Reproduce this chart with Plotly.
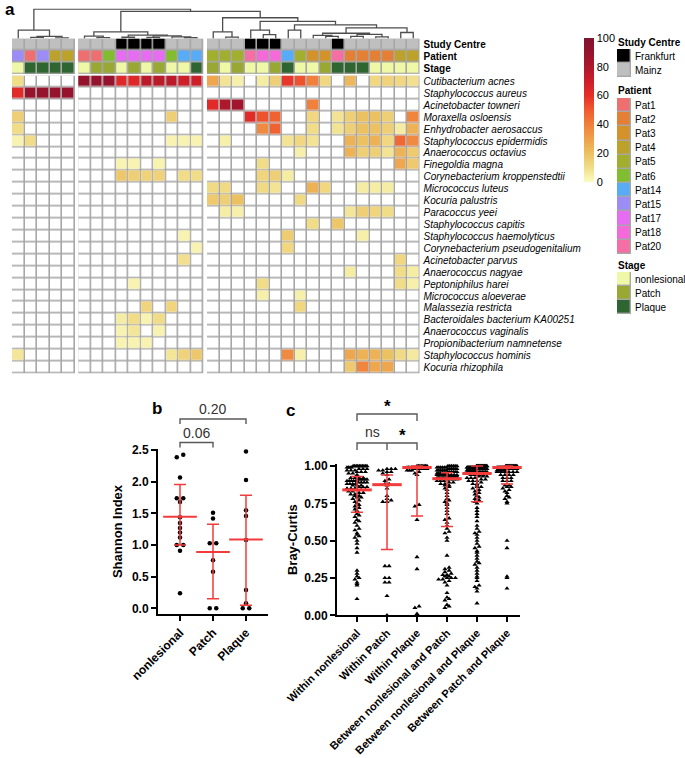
import numpy as np
import plotly.graph_objects as go

W, H = 685, 758
FONT = "Liberation Sans, Arial, Helvetica, sans-serif"


def fx(p):
    return p / W


def fy(p):
    return 1 - p / H


# ---------------- panel a data ----------------
species = ["Cutibacterium acnes", "Staphylococcus aureus", "Acinetobacter towneri",
           "Moraxella osloensis", "Enhydrobacter aerosaccus", "Staphylococcus epidermidis",
           "Anaerococcus octavius", "Finegoldia magna", "Corynebacterium kroppenstedtii",
           "Micrococcus luteus", "Kocuria palustris", "Paracoccus yeei", "Staphylococcus capitis",
           "Staphylococcus haemolyticus", "Corynebacterium pseudogenitalium", "Acinetobacter parvus",
           "Anaerococcus nagyae", "Peptoniphilus harei", "Micrococcus aloeverae", "Malassezia restricta",
           "Bacteroidales bacterium KA00251", "Anaerococcus vaginalis", "Propionibacterium namnetense",
           "Staphylococcus hominis", "Kocuria rhizophila"]

cluster_sizes = [5, 10, 17]

study_centre = ["Mainz", "Mainz", "Mainz", "Mainz", "Mainz",
                "Mainz", "Mainz", "Mainz", "Frankfurt", "Frankfurt", "Frankfurt", "Frankfurt", "Mainz", "Mainz", "Mainz",
                "Mainz", "Mainz", "Mainz", "Frankfurt", "Frankfurt", "Frankfurt", "Mainz", "Mainz", "Mainz", "Mainz",
                "Frankfurt", "Mainz", "Mainz", "Mainz", "Mainz", "Mainz", "Mainz"]
patient = ["Pat15", "Pat1", "Pat15", "Pat4", "Pat4",
           "Pat1", "Pat1", "Pat6", "Pat17", "Pat17", "Pat17", "Pat17", "Pat6", "Pat14", "Pat14",
           "Pat5", "Pat5", "Pat5", "Pat20", "Pat18", "Pat18", "Pat14", "Pat5", "Pat3", "Pat3", "Pat20",
           "Pat2", "Pat2", "Pat2", "Pat2", "Pat4", "Pat4"]
stage = ["nonlesional", "Plaque", "Plaque", "Plaque", "Plaque",
         "nonlesional", "Patch", "Patch", "nonlesional", "Patch", "nonlesional", "Patch", "nonlesional",
         "nonlesional", "Plaque",
         "Patch", "nonlesional", "Patch", "nonlesional", "nonlesional", "Patch", "Plaque", "nonlesional",
         "nonlesional", "Patch", "Plaque", "Plaque", "Plaque", "nonlesional", "nonlesional", "nonlesional",
         "nonlesional"]

# relative abundance (%) per species; {sample column (1-based): value}, blank cells omitted
abundance = [
    {1: 10, 6: 90, 7: 90, 8: 90, 9: 63, 10: 63, 11: 76, 12: 76, 13: 76, 14: 70, 15: 70, 16: 28, 17: 8, 18: 4,
     20: 5, 21: 15, 22: 58, 23: 52, 24: 40, 25: 12, 27: 23, 29: 12, 30: 14, 31: 12, 32: 9},
    {1: 62, 2: 90, 3: 90, 4: 90, 5: 90},
    {16: 62, 17: 80, 18: 85, 24: 40},
    {1: 15, 13: 15, 19: 62, 20: 52, 21: 48, 24: 12, 26: 8, 27: 15, 28: 20, 29: 20, 30: 15, 32: 38},
    {1: 10, 20: 37, 21: 48, 24: 10, 26: 8, 27: 15, 28: 20, 29: 20, 30: 15, 31: 5, 32: 25},
    {1: 3, 2: 10, 13: 3, 14: 3, 15: 3, 17: 4, 22: 8, 23: 12, 24: 8, 27: 25, 28: 20, 29: 25, 30: 12, 31: 46, 32: 37},
    {23: 4, 27: 25, 28: 15, 29: 15, 30: 8, 31: 25, 32: 17},
    {9: 3, 10: 3, 12: 3, 20: 10, 31: 28, 32: 17},
    {9: 18, 10: 15, 11: 14, 12: 14, 14: 10, 15: 10, 20: 13, 21: 15, 22: 5},
    {16: 11, 17: 11, 20: 11, 21: 8, 24: 25, 25: 12, 28: 5, 29: 5, 30: 5},
    {16: 17, 17: 15, 18: 20, 23: 11},
    {17: 5, 18: 4, 27: 7, 28: 15, 29: 13, 30: 10},
    {24: 10, 26: 18},
    {14: 3, 22: 16, 28: 4},
    {15: 3, 22: 12},
    {14: 9, 31: 12},
    {27: 5, 31: 10, 32: 5},
    {10: 3, 20: 10, 31: 10, 32: 4},
    {20: 4, 23: 4},
    {11: 13, 13: 13, 23: 12},
    {9: 5, 10: 10, 11: 3, 12: 10},
    {9: 3, 10: 7, 12: 3},
    {9: 3, 10: 3, 11: 3},
    {1: 7, 13: 7, 14: 14, 15: 18, 22: 37, 23: 4, 27: 28, 28: 25, 29: 25, 30: 20, 31: 11, 32: 6},
    {27: 17, 28: 38, 29: 28, 30: 28},
]

# dendrogram: [merge height, left, right]; leaves are sample indices (0-based)
tree = [28, [8, 0, [2, [1, 1, 2], [0.6, 3, 4]]],
        [25.7,
         [6.3, [2.3, 5, [0.8, 6, 7]], [3.3, [1.2, 8, 9], [2.4, [1.0, 10, 11], [1.6, 12, [0.7, 13, 14]]]]],
         [19.7, [6.3, 15, [1.3, 16, 17]],
          [16.3, [8, 18, [3.7, 19, 20]],
           [13, [8, 21, 22],
            [10, [5, [3, 23, [2, 24, 25]], [4, [2, 26, 27], [1.5, 28, 29]]], [5.7, 30, 31]]]]]]]

study_levels = ["Frankfurt", "Mainz"]
patient_levels = ["Pat1", "Pat2", "Pat3", "Pat4", "Pat5", "Pat6", "Pat14", "Pat15", "Pat17", "Pat18", "Pat20"]
stage_levels = ["nonlesional", "Patch", "Plaque"]
study_colors = ["#000000", "#bfbfbf"]
patient_colors = ["#ef6f70", "#e47f36", "#d3932a", "#bca12b", "#a2ae2e", "#82bd30", "#58abf6", "#9b8cf6",
                  "#e66cf2", "#f36ad8", "#f56fa4"]
stage_colors = ["#eef8a6", "#98a833", "#2f6531"]

abund_scale = [[0.0, "#fbfcc2"], [0.1, "#f1dd88"], [0.2, "#ecc162"], [0.3, "#eea04a"], [0.4, "#f0803b"],
               [0.5, "#f05a30"], [0.6, "#e52e28"], [0.7, "#cc1f2a"], [0.8, "#ad182c"], [0.9, "#95132c"],
               [1.0, "#7f1430"]]

# ---------------- panel b data ----------------
b_groups = ["nonlesional", "Patch", "Plaque"]
b_nonlesional = [2.43, 2.39, 2.07, 1.74, 1.74, 1.68, 1.44, 1.35, 1.27, 1.20, 1.12, 1.0, 1.0, 0.91, 0.24]
b_patch = [1.51, 1.42, 1.03, 1.03, 0.76, 0.58, 0.0, 0.0]
b_plaque = [2.48, 2.03, 1.55, 1.46, 1.08, 0.29, 0.08, 0.0, 0.0]
b_center = [1.45, 0.89, 1.09]
b_low = [1.00, 0.15, 0.05]
b_high = [1.96, 1.33, 1.79]

# ---------------- panel c data (value, count) ----------------
c_groups = ["Within nonlesional", "Within Patch", "Within Plaque", "Between nonlesional and Patch",
            "Between nonlesional and Plaque", "Between Patch and Plaque"]
c_within_nonles = [(1.0, 10), (0.99, 4), (0.98, 3), (0.97, 3), (0.96, 3), (0.95, 2), (0.94, 1), (0.92, 4),
                   (0.91, 5), (0.90, 5), (0.89, 4), (0.88, 4), (0.87, 3), (0.86, 3), (0.85, 3), (0.84, 3),
                   (0.83, 2), (0.82, 2), (0.81, 2), (0.80, 2), (0.79, 2), (0.78, 1), (0.77, 1), (0.76, 1),
                   (0.75, 1), (0.74, 1), (0.73, 1), (0.72, 1), (0.71, 1), (0.70, 1), (0.68, 1), (0.67, 1),
                   (0.66, 1), (0.64, 1), (0.63, 1), (0.62, 1), (0.60, 1), (0.58, 1), (0.57, 1), (0.55, 1),
                   (0.54, 1), (0.53, 1), (0.52, 1), (0.50, 1), (0.48, 1), (0.45, 1), (0.42, 1), (0.30, 1),
                   (0.28, 1), (0.26, 1), (0.25, 1), (0.24, 1), (0.22, 1), (0.21, 1), (0.20, 1), (0.11, 1)]
c_within_patch = [(0.98, 3), (0.97, 2), (0.96, 2), (0.95, 1), (0.94, 1), (0.91, 1), (0.90, 1), (0.88, 2),
                  (0.87, 1), (0.85, 1), (0.80, 1), (0.78, 1), (0.77, 1), (0.76, 2), (0.33, 2), (0.25, 2),
                  (0.22, 2), (0.13, 1), (0.0, 1)]
c_within_plaque = [(1.0, 8), (0.99, 7), (0.98, 6), (0.97, 3), (0.96, 1), (0.95, 1), (0.94, 1), (0.74, 1),
                   (0.73, 1), (0.64, 1), (0.39, 1), (0.31, 1), (0.06, 1), (0.05, 1), (0.01, 1), (0.0, 1)]
c_between_nl_patch = [(1.0, 6), (0.99, 6), (0.98, 6), (0.97, 6), (0.96, 6), (0.95, 6), (0.94, 8), (0.93, 8),
                      (0.92, 8), (0.91, 4), (0.90, 3), (0.89, 2), (0.88, 2), (0.87, 2), (0.86, 1), (0.85, 1),
                      (0.84, 1), (0.82, 1), (0.80, 1), (0.78, 1), (0.77, 1), (0.76, 1), (0.75, 1), (0.74, 1),
                      (0.72, 1), (0.70, 1), (0.68, 1), (0.65, 1), (0.64, 1), (0.62, 1), (0.60, 1), (0.58, 1),
                      (0.56, 1), (0.55, 1), (0.52, 1), (0.50, 1), (0.40, 1), (0.32, 1), (0.31, 1), (0.30, 1),
                      (0.29, 1), (0.28, 1), (0.27, 2), (0.26, 2), (0.25, 3), (0.24, 2), (0.23, 1), (0.22, 1),
                      (0.20, 1), (0.15, 1), (0.12, 1), (0.11, 1), (0.10, 1), (0.07, 1), (0.06, 1), (0.05, 1)]
c_between_nl_plaque = [(1.0, 17), (0.99, 14), (0.98, 14), (0.97, 12), (0.96, 10), (0.95, 4), (0.94, 4),
                       (0.93, 3), (0.92, 3), (0.91, 2), (0.90, 3), (0.89, 1), (0.88, 2), (0.87, 1), (0.86, 2),
                       (0.85, 1), (0.84, 1), (0.83, 1), (0.82, 1), (0.81, 1), (0.80, 1), (0.79, 1), (0.78, 1),
                       (0.77, 1), (0.76, 1), (0.75, 1), (0.72, 1), (0.70, 1), (0.68, 1), (0.66, 1), (0.63, 1),
                       (0.60, 1), (0.58, 1), (0.56, 1), (0.55, 1), (0.54, 1), (0.52, 1), (0.50, 1), (0.48, 1),
                       (0.46, 1), (0.45, 1), (0.43, 1), (0.42, 1), (0.40, 1), (0.38, 1), (0.36, 1), (0.35, 1),
                       (0.34, 1), (0.32, 1), (0.30, 1), (0.28, 1), (0.26, 1), (0.25, 1), (0.23, 1), (0.20, 1),
                       (0.19, 1), (0.18, 1), (0.16, 1), (0.08, 1)]
c_between_patch_plaque = [(1.0, 14), (0.99, 10), (0.98, 8), (0.97, 6), (0.96, 6), (0.94, 4), (0.92, 3),
                          (0.90, 3), (0.87, 2), (0.86, 2), (0.85, 1), (0.84, 1), (0.83, 1), (0.82, 1), (0.80, 1),
                          (0.79, 1), (0.78, 1), (0.76, 1), (0.75, 1), (0.50, 1), (0.45, 1), (0.26, 1), (0.25, 1),
                          (0.18, 1)]
c_center = [0.84, 0.875, 0.99, 0.915, 0.95, 0.99]
c_low = [0.69, 0.44, 0.665, 0.594, 0.76, 0.88]
c_high = [0.93, 0.94, 1.0, 0.955, 1.0, 1.0]

# ---------------- build ----------------
fig = go.Figure()
GRID = "#a7a7a7"
RED = "#f23b3b"

# column positions (unit columns, small gap between clusters)
gap = 0.3
col_x, groups = [], []
start = 0.0
for n in cluster_sizes:
    idx = list(range(len(col_x), len(col_x) + n))
    col_x += [start + k + 0.5 for k in range(n)]
    groups.append(idx)
    start += n + gap
x_total = start - gap

nS = len(species)
Z = [[abundance[r].get(c + 1, np.nan) for c in range(len(col_x))] for r in range(nS)]

all_colors = study_colors + patient_colors + stage_colors
ncol = len(all_colors)


def discrete_scale(colors):
    n = len(colors)
    cs = []
    for i, c in enumerate(colors):
        cs.append([i / n, c])
        cs.append([(i + 1) / n, c])
    return cs


dscale = discrete_scale(all_colors)
ann_z = [[study_levels.index(s) for s in study_centre],
         [2 + patient_levels.index(p) for p in patient],
         [2 + len(patient_levels) + stage_levels.index(s) for s in stage]]


def solid(xs, ys, color, xa, ya, g=0):
    fig.add_trace(go.Heatmap(x=xs, y=ys, z=[[1] * len(xs) for _ in ys], colorscale=[[0, color], [1, color]],
                             showscale=False, hoverinfo="skip", xgap=g, ygap=g, xaxis=xa, yaxis=ya))


for idx in groups:
    xs = [col_x[i] for i in idx]
    rows = list(range(nS))
    solid(xs, rows, GRID, "x", "y")
    solid(xs, rows, "#ffffff", "x", "y", g=1.6)
    fig.add_trace(go.Heatmap(x=xs, y=rows, z=[[Z[r][i] for i in idx] for r in rows], coloraxis="coloraxis",
                             xgap=1.6, ygap=1.6, hoverinfo="skip", xaxis="x", yaxis="y"))
    solid(xs, [0, 1, 2], GRID, "x", "y2")
    fig.add_trace(go.Heatmap(x=xs, y=[0, 1, 2], z=[[ann_z[r][i] for i in idx] for r in range(3)],
                             colorscale=dscale, zmin=-0.5, zmax=ncol - 0.5, showscale=False, xgap=1.6, ygap=1.6,
                             hoverinfo="skip", xaxis="x", yaxis="y2"))

# dendrogram
dx, dy = [], []


def walk(node):
    if isinstance(node, int):
        return col_x[node], 0.0
    h, l, r = node
    xl, hl = walk(l)
    xr, hr = walk(r)
    dx.extend([xl, xl, xr, xr, None])
    dy.extend([hl, h, h, hr, None])
    return (xl + xr) / 2, h


walk(tree)
fig.add_trace(go.Scatter(x=dx, y=dy, mode="lines", line=dict(color="#4d4d4d", width=1.3), hoverinfo="skip",
                         showlegend=False, xaxis="x", yaxis="y3", cliponaxis=False))

# legend swatch columns
leg_specs = [("x2", "y4", study_levels, 0), ("x3", "y5", patient_levels, 2),
             ("x4", "y6", stage_levels, 2 + len(patient_levels))]
for xa, ya, levels, off in leg_specs:
    ys = list(range(len(levels)))
    solid([0], ys, GRID, xa, ya)
    fig.add_trace(go.Heatmap(x=[0], y=ys, z=[[off + i] for i in ys], colorscale=dscale, zmin=-0.5,
                             zmax=ncol - 0.5, showscale=False, xgap=1.4, ygap=1.4, hoverinfo="skip",
                             xaxis=xa, yaxis=ya))


# swarm offsets (px)
def swarm(values, px_per_y, bin_px, diam, max_half):
    v = np.asarray(values, float)
    bins = np.round(v * px_per_y / bin_px).astype(int)
    off = np.zeros(len(v))
    for b in np.unique(bins):
        ids = np.where(bins == b)[0]
        n = len(ids)
        if n == 1:
            continue
        step = diam if (n - 1) * diam <= 2 * max_half else 2 * max_half / (n - 1)
        ids = ids[np.argsort(v[ids], kind="stable")]
        for k, i in enumerate(ids):
            off[i] = (k - (n - 1) / 2) * step
    return off


# panel b geometry
b_xdom = (158, 268)
b_xr = (-0.667, 2.667)
b_ydom = (449, 614)
b_yr = (-0.09, 2.52)
b_pxx = (b_xdom[1] - b_xdom[0]) / (b_xr[1] - b_xr[0])
b_pxy = (b_ydom[1] - b_ydom[0]) / (b_yr[1] - b_yr[0])
bx, by = [], []
for i, vals in enumerate([b_nonlesional, b_patch, b_plaque]):
    off = swarm(vals, b_pxy, 4.0, 6.5, 12)
    bx += list(i + off / b_pxx)
    by += list(vals)
fig.add_trace(go.Scatter(x=bx, y=by, mode="markers", marker=dict(color="black", size=4.5), showlegend=False,
                         xaxis="x5", yaxis="y7", cliponaxis=False, hoverinfo="skip"))
fig.add_trace(go.Scatter(x=[0, 1, 2], y=b_center, mode="markers",
                         marker=dict(symbol="line-ew", size=24, line=dict(color=RED, width=2)),
                         error_y=dict(type="data", symmetric=False,
                                      array=[h - c for h, c in zip(b_high, b_center)],
                                      arrayminus=[c - l for c, l in zip(b_center, b_low)],
                                      color=RED, thickness=1.5, width=6),
                         showlegend=False, xaxis="x5", yaxis="y7", cliponaxis=False, hoverinfo="skip"))

# panel c geometry
c_xdom = (337, 520)
c_xr = (-0.667, 5.433)
c_ydom = (464, 615.3)
c_yr = (0, 1.0134)
c_pxx = (c_xdom[1] - c_xdom[0]) / (c_xr[1] - c_xr[0])
c_pxy = (c_ydom[1] - c_ydom[0]) / (c_yr[1] - c_yr[0])
cx, cy = [], []
for i, pairs in enumerate([c_within_nonles, c_within_patch, c_within_plaque, c_between_nl_patch,
                           c_between_nl_plaque, c_between_patch_plaque]):
    vals = [v for v, n in pairs for _ in range(n)]
    off = swarm(vals, c_pxy, 2.6, 4.2, 10)
    cx += list(i + off / c_pxx)
    cy += vals
fig.add_trace(go.Scatter(x=cx, y=cy, mode="markers",
                         marker=dict(color="black", size=4.5, symbol="triangle-up"), showlegend=False,
                         xaxis="x6", yaxis="y8", cliponaxis=False, hoverinfo="skip"))
fig.add_trace(go.Scatter(x=list(range(6)), y=c_center, mode="markers",
                         marker=dict(symbol="line-ew", size=21, line=dict(color=RED, width=3)),
                         error_y=dict(type="data", symmetric=False,
                                      array=[h - c for h, c in zip(c_high, c_center)],
                                      arrayminus=[c - l for c, l in zip(c_center, c_low)],
                                      color=RED, thickness=1.5, width=6),
                         showlegend=False, xaxis="x6", yaxis="y8", cliponaxis=False, hoverinfo="skip"))

# ---------------- axes ----------------
hidden = dict(visible=False, showgrid=False, zeroline=False, fixedrange=True)
bold = dict(family=FONT, size=12, color="black", weight="bold")


def xdom(a, b):
    return [fx(a), fx(b)]


def ydom(top, bottom):
    return [fy(bottom), fy(top)]


layout = dict(
    width=W, height=H, margin=dict(l=0, r=0, t=0, b=0), template="none",
    paper_bgcolor="white", plot_bgcolor="rgba(0,0,0,0)", showlegend=False,
    font=dict(family=FONT, color="black"),
    coloraxis=dict(colorscale=abund_scale, cmin=0, cmax=100,
                   colorbar=dict(x=fx(584), xanchor="left", y=fy(38), yanchor="top", len=144, lenmode="pixels",
                                 thickness=10, thicknessmode="pixels", outlinewidth=0, ticks="",
                                 tickvals=[0, 20, 40, 60, 80, 100], tickfont=dict(family=FONT, size=11),
                                 xpad=0, ypad=0)),
    xaxis=dict(domain=xdom(12, 419.5), range=[0, x_total], anchor="y", **hidden),
    yaxis=dict(domain=ydom(75.5, 373.5), range=[nS - 0.5, -0.5], anchor="x", side="right",
               tickvals=list(range(nS)), ticktext=species, ticks="", showgrid=False, zeroline=False,
               showline=False, ticklabelstandoff=3,
               tickfont=dict(family=FONT, size=10, style="italic", color="black")),
    yaxis2=dict(domain=ydom(38.5, 74), range=[2.5, -0.5], anchor="x", side="right",
                tickvals=[0, 1, 2], ticktext=["Study Centre", "Patient", "Stage"], ticks="", showgrid=False,
                zeroline=False, showline=False, ticklabelstandoff=3,
                tickfont=dict(family=FONT, size=10, weight="bold", color="black")),
    yaxis3=dict(domain=ydom(8.5, 38.5), range=[0, 28.5], anchor="x", **hidden),
)
LEGX = 617
leg_geo = [("2", "4", 49, 77, study_levels), ("3", "5", 98, 254, patient_levels), ("4", "6", 272, 314,
                                                                                   stage_levels)]
for xi, yi, top, bot, levels in leg_geo:
    layout["xaxis" + xi] = dict(domain=xdom(LEGX, LEGX + 14), range=[-0.5, 0.5], anchor="y" + yi, **hidden)
    layout["yaxis" + yi] = dict(domain=ydom(top, bot), range=[len(levels) - 0.5, -0.5], anchor="x" + xi,
                                side="right", tickvals=list(range(len(levels))), ticktext=levels, ticks="",
                                showgrid=False, zeroline=False, showline=False, ticklabelstandoff=3,
                                tickfont=dict(family=FONT, size=10, color="black"))

axstyle = dict(showline=True, linewidth=2, linecolor="black", ticks="outside", ticklen=5, tickwidth=2,
               tickcolor="black", showgrid=False, zeroline=False)
layout["xaxis5"] = dict(domain=xdom(*b_xdom), range=list(b_xr), anchor="y7", tickvals=[0, 1, 2],
                        ticktext=b_groups, tickangle=-45, tickfont=bold, **axstyle)
layout["yaxis7"] = dict(domain=ydom(*b_ydom), range=list(b_yr), anchor="x5",
                        tickvals=[0, 0.5, 1.0, 1.5, 2.0, 2.5], tickformat=".1f", tickfont=bold,
                        title=dict(text="Shannon Index", font=dict(family=FONT, size=13, weight="bold"),
                                   standoff=6), **axstyle)
layout["xaxis6"] = dict(domain=xdom(*c_xdom), range=list(c_xr), anchor="y8", tickvals=list(range(6)),
                        ticktext=c_groups, tickangle=-45,
                        tickfont=dict(family=FONT, size=11, color="black", weight="bold"), **axstyle)
layout["yaxis8"] = dict(domain=ydom(*c_ydom), range=list(c_yr), anchor="x6",
                        tickvals=[0, 0.25, 0.5, 0.75, 1.0], tickformat=".2f", tickfont=bold,
                        title=dict(text="Bray-Curtis", font=dict(family=FONT, size=13, weight="bold"),
                                   standoff=4), **axstyle)
fig.update_layout(**layout)


# ---------------- annotations / brackets ----------------
def cat_px(i, dom, rng):
    return dom[0] + (i - rng[0]) / (rng[1] - rng[0]) * (dom[1] - dom[0])


ann = []
shapes = []


def text(xp, yp, s, size, weight="normal", color="black", xanchor="center"):
    ann.append(dict(x=fx(xp), y=fy(yp), xref="paper", yref="paper", text=s, showarrow=False, xanchor=xanchor,
                    yanchor="middle", font=dict(family=FONT, size=size, color=color, weight=weight)))


def bracket(xs_px, ypx, drop):
    x0, x1 = xs_px[0], xs_px[-1]
    path = f"M{fx(x0)},{fy(ypx + drop)} L{fx(x0)},{fy(ypx)} L{fx(x1)},{fy(ypx)} L{fx(x1)},{fy(ypx + drop)}"
    for xm in xs_px[1:-1]:
        path += f" M{fx(xm)},{fy(ypx)} L{fx(xm)},{fy(ypx + drop)}"
    shapes.append(dict(type="path", path=path, xref="paper", yref="paper",
                       line=dict(color="#595959", width=1.4)))


# panel letters
text(3, 10, "a", 17, "bold", xanchor="left")
text(150, 408, "b", 17, "bold", xanchor="left")
text(284, 410, "c", 17, "bold", xanchor="left")

# legend titles
text(LEGX - 1, 42, "Study Centre", 10, "bold", xanchor="left")
text(LEGX - 1, 91, "Patient", 10, "bold", xanchor="left")
text(LEGX - 1, 265, "Stage", 10, "bold", xanchor="left")

# panel b brackets
bp = [cat_px(i, b_xdom, b_xr) for i in range(3)]
bracket([bp[0], bp[2]], 419, 5)
bracket([bp[0], bp[1]], 442.5, 5)
text(bp[1], 409, "0.20", 14, color="#333333")
text((bp[0] + bp[1]) / 2, 433, "0.06", 14, color="#333333")

# panel c brackets
cp = [cat_px(i, c_xdom, c_xr) for i in range(6)]
bracket([cp[0], cp[2]], 414, 7)
bracket([cp[0], cp[1], cp[2]], 443, 7)
text(cp[1], 406, "*", 17, "bold")
text((cp[0] + cp[1]) / 2, 432, "ns", 14, color="#333333")
text((cp[1] + cp[2]) / 2, 435, "*", 17, "bold")

fig.update_layout(annotations=ann, shapes=shapes)
fig.write_html("out.html")
